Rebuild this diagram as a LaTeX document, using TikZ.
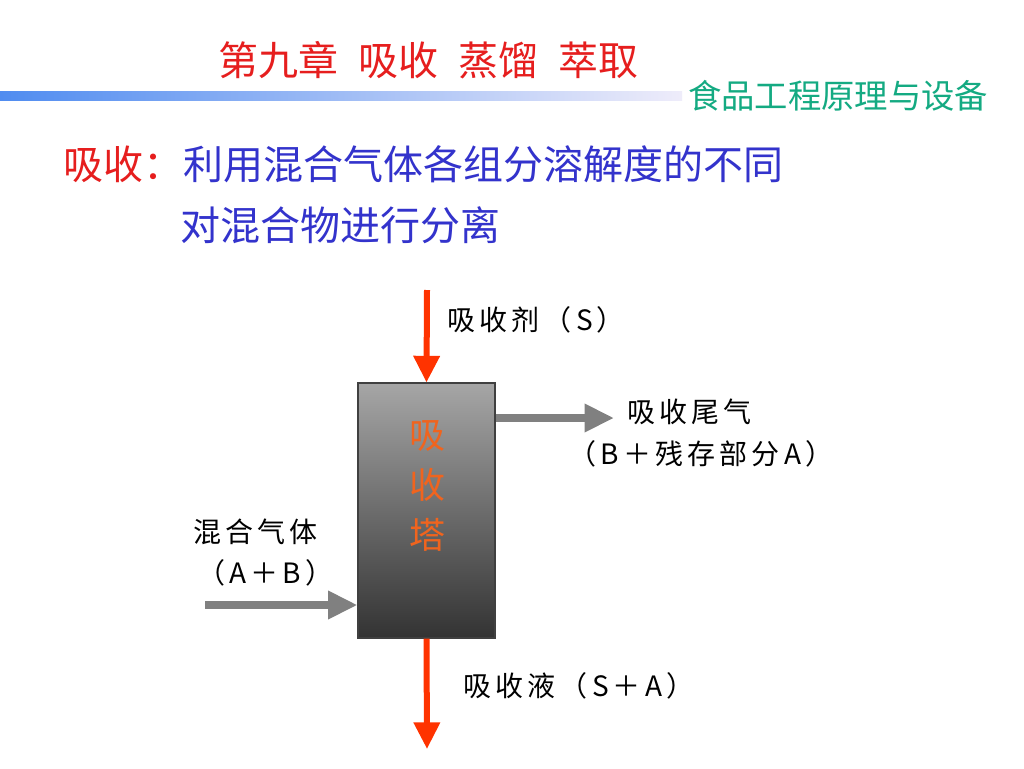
\documentclass[tikz,border=0pt]{standalone}
\usepackage{fontspec}
\newfontfamily\cjk{Noto Sans CJK SC}
\newfontfamily\cjkls[LetterSpace=15]{Noto Sans CJK SC}
\usetikzlibrary{arrows.meta}
\definecolor{titlered}{RGB}{230,30,30}
\definecolor{tealgreen}{RGB}{20,170,130}
\definecolor{textblue}{RGB}{51,51,204}
\definecolor{arrowred}{RGB}{255,51,0}
\definecolor{towerorange}{RGB}{240,100,30}
\definecolor{arrowgray}{RGB}{128,128,128}
\definecolor{barblue}{RGB}{80,140,240}
\definecolor{barend}{RGB}{238,236,250}
\tikzset{
  txt/.style={inner sep=0pt, font=\cjk},
  lbl/.style={txt, font=\cjkls\fontsize{21}{25}\selectfont, text=black},
  redflow/.style={draw=arrowred, line width=4.5pt, -{Triangle[length=20pt,width=19pt]}},
  grayflow/.style={draw=arrowgray, line width=6pt, -{Triangle[length=22pt,width=20pt]}},
}
\begin{document}
\begin{tikzpicture}[x=0.75pt,y=-0.75pt]
\useasboundingbox (0,0) rectangle (1024,768);
\fill[white] (0,0) rectangle (1024,768);
% header
\node[txt, anchor=west, text=titlered, font=\cjk\fontsize{30}{34}\selectfont] (title) at (218,60)
  {第九章\hspace{0.5em}吸收\hspace{0.5em}蒸馏\hspace{0.5em}萃取};
\shade[left color=barblue, right color=barend] (0,91) rectangle (682,100);
\node[txt, anchor=west, text=tealgreen, font=\cjk\fontsize{25}{29}\selectfont] (book) at (688,96) {食品工程原理与设备};
% definition
\node[txt, anchor=west, font=\cjk\fontsize{30}{34}\selectfont] (def1) at (63,164)
  {\textcolor{titlered}{吸收：}\textcolor{textblue}{利用混合气体各组分溶解度的不同}};
\node[txt, anchor=west, text=textblue, font=\cjk\fontsize{30}{34}\selectfont] (def2) at (180,225) {对混合物进行分离};
% tower
\node[draw=black!75, line width=0.8pt, minimum width=137*0.75pt, minimum height=255*0.75pt,
      top color=black!35, bottom color=black!80, inner sep=0pt] (tower) at (426.5,510.5) {};
\node[txt, text=towerorange, font=\cjk\fontsize{27}{37.5}\selectfont, align=center, anchor=north] (tname) at (427,420) {吸\\收\\塔};
% flows
\coordinate (sIn) at (427,290);
\coordinate (gOut) at (614,418);
\coordinate (gIn) at (205,605);
\coordinate (lOut) at (427,749);
\draw[redflow] (sIn) -- (tower.north);
\draw[redflow] (tower.south) -- (lOut);
\draw[grayflow] (tower.east |- gOut) -- (gOut);
\draw[grayflow] (gIn) -- (tower.west |- gIn);
% labels
\node[lbl, anchor=west] (lS) at (447,320) {吸收剂（S）};
\node[lbl, anchor=west] (lT1) at (627,412) {吸收尾气};
\node[lbl, anchor=west] (lT2) at (568,454) {（B＋残存部分A）};
\node[lbl, anchor=west] (lG1) at (193,532) {混合气体};
\node[lbl, anchor=west] (lG2) at (197,573) {（A＋B）};
\node[lbl, anchor=west] (lL) at (463,686) {吸收液（S＋A）};
\end{tikzpicture}
\end{document}
